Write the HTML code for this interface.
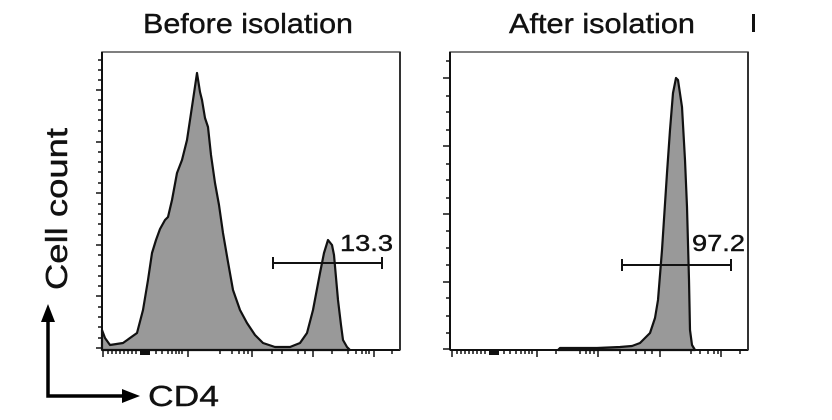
<!DOCTYPE html>
<html><head><meta charset="utf-8"><style>
html,body{margin:0;padding:0;background:#fff;}
svg{display:block;}
text{font-family:"Liberation Sans",Arial,sans-serif;fill:#111;stroke:#111;stroke-width:0.4;}
</style></head><body>
<svg width="832" height="420" viewBox="0 0 832 420" xmlns="http://www.w3.org/2000/svg">
<rect width="832" height="420" fill="#fff"/>
<text x="143" y="33" font-size="28" textLength="210" lengthAdjust="spacingAndGlyphs">Before isolation</text>
<text x="509" y="33" font-size="28" textLength="186" lengthAdjust="spacingAndGlyphs">After isolation</text>
<rect x="752" y="14" width="3" height="18" fill="#111"/>
<text transform="translate(67,290) rotate(-90)" font-size="31" textLength="162" lengthAdjust="spacingAndGlyphs">Cell count</text>
<path d="M48,318 L48,396 L128,396" fill="none" stroke="#000" stroke-width="3.5"/>
<polygon points="48,304 41,322 55,322" fill="#000"/>
<polygon points="140,396 122,389 122,403" fill="#000"/>
<text x="148" y="406" font-size="29" textLength="71" lengthAdjust="spacingAndGlyphs">CD4</text>

<path d="M102,350 L102,330 L105,338 L110,345 L123,343 L137,333 L143,310 L148,280 L152,253 L156,240 L160,229 L165,220 L168,217 L172,200 L177,173 L182,160 L187,140 L190,120 L193,100 L197,73 L200,92 L202,100 L205,118 L208,127 L211,155 L215,183 L219,205 L223,233 L228,262 L233,290 L240,310 L247,323 L255,335 L263,343 L275,347 L290,347 L300,343 L307,333 L313,310 L320,273 L324,253 L328,240 L332,245 L334,255 L338,300 L341,325 L343,340 L347,347 L350,350 Z" fill="#999" stroke="#111" stroke-width="2.2" stroke-linejoin="round"/>
<path d="M102,52 L400,52 L400,350 L102,350 Z" fill="none" stroke="#555" stroke-width="1.5"/>
<line x1="102" y1="52" x2="102" y2="350" stroke="#111" stroke-width="2"/>
<line x1="102" y1="350" x2="400" y2="350" stroke="#111" stroke-width="2"/>
<line x1="400" y1="52" x2="400" y2="350" stroke="#333" stroke-width="2"/>
<g stroke="#111" stroke-width="1.5">
<line x1="96" y1="90" x2="102" y2="90"/><line x1="96" y1="142" x2="102" y2="142"/><line x1="96" y1="193" x2="102" y2="193"/><line x1="96" y1="245" x2="102" y2="245"/><line x1="96" y1="296" x2="102" y2="296"/><line x1="96" y1="348" x2="102" y2="348"/>
<line x1="98" y1="60" x2="102" y2="60"/><line x1="98" y1="70" x2="102" y2="70"/><line x1="98" y1="80" x2="102" y2="80"/><line x1="98" y1="100" x2="102" y2="100"/><line x1="98" y1="110" x2="102" y2="110"/><line x1="98" y1="120" x2="102" y2="120"/><line x1="98" y1="131" x2="102" y2="131"/><line x1="98" y1="152" x2="102" y2="152"/><line x1="98" y1="162" x2="102" y2="162"/><line x1="98" y1="172" x2="102" y2="172"/><line x1="98" y1="183" x2="102" y2="183"/><line x1="98" y1="204" x2="102" y2="204"/><line x1="98" y1="214" x2="102" y2="214"/><line x1="98" y1="224" x2="102" y2="224"/><line x1="98" y1="235" x2="102" y2="235"/><line x1="98" y1="255" x2="102" y2="255"/><line x1="98" y1="266" x2="102" y2="266"/><line x1="98" y1="276" x2="102" y2="276"/><line x1="98" y1="286" x2="102" y2="286"/><line x1="98" y1="307" x2="102" y2="307"/><line x1="98" y1="317" x2="102" y2="317"/><line x1="98" y1="327" x2="102" y2="327"/><line x1="98" y1="338" x2="102" y2="338"/>
</g>
<g stroke="#111" stroke-width="1.5">
<line x1="103" y1="350" x2="103" y2="357"/><line x1="108" y1="350" x2="108" y2="354"/><line x1="112" y1="350" x2="112" y2="354"/><line x1="116" y1="350" x2="116" y2="354"/><line x1="120" y1="350" x2="120" y2="354"/><line x1="124" y1="350" x2="124" y2="354"/><line x1="128" y1="350" x2="128" y2="354"/><line x1="132" y1="350" x2="132" y2="354"/><line x1="136" y1="350" x2="136" y2="354"/>
<rect x="140" y="350" width="10" height="5" fill="#111" stroke="none"/>
<line x1="156" y1="350" x2="156" y2="354"/><line x1="162" y1="350" x2="162" y2="354"/><line x1="168" y1="350" x2="168" y2="354"/><line x1="172" y1="350" x2="172" y2="354"/><line x1="176" y1="350" x2="176" y2="354"/><line x1="179" y1="350" x2="179" y2="354"/><line x1="182" y1="350" x2="182" y2="354"/><line x1="188" y1="350" x2="188" y2="357"/>
<line x1="220" y1="350" x2="220" y2="354"/><line x1="232" y1="350" x2="232" y2="354"/><line x1="239" y1="350" x2="239" y2="354"/><line x1="244" y1="350" x2="244" y2="354"/><line x1="248" y1="350" x2="248" y2="354"/><line x1="252" y1="350" x2="252" y2="357"/>
<line x1="272" y1="350" x2="272" y2="354"/><line x1="282" y1="350" x2="282" y2="354"/><line x1="298" y1="350" x2="298" y2="354"/><line x1="305" y1="350" x2="305" y2="354"/><line x1="313" y1="350" x2="313" y2="357"/>
<line x1="332" y1="350" x2="332" y2="354"/><line x1="348" y1="350" x2="348" y2="354"/><line x1="356" y1="350" x2="356" y2="354"/><line x1="362" y1="350" x2="362" y2="354"/><line x1="366" y1="350" x2="366" y2="354"/><line x1="369" y1="350" x2="369" y2="354"/><line x1="374" y1="350" x2="374" y2="357"/><line x1="392" y1="350" x2="392" y2="354"/>
</g>
<g stroke="#111" stroke-width="2">
<line x1="273" y1="263" x2="382" y2="263"/><line x1="273" y1="257" x2="273" y2="269"/><line x1="382" y1="257" x2="382" y2="269"/>
</g>
<text x="340" y="251" font-size="23" textLength="53" lengthAdjust="spacingAndGlyphs">13.3</text>

<path d="M558,350 L560,348 L597,348 L620,347 L632,346 L640,343 L650,333 L655,318 L658,300 L662,250 L667,173 L670,130 L673,93 L676,78 L678,80 L682,107 L685,160 L687,207 L689,280 L690,330 L692,345 L695,350 Z" fill="#999" stroke="#111" stroke-width="2.2" stroke-linejoin="round"/>
<path d="M450,52 L748,52 L748,350 L450,350 Z" fill="none" stroke="#555" stroke-width="1.5"/>
<line x1="450" y1="52" x2="450" y2="350" stroke="#111" stroke-width="2"/>
<line x1="450" y1="350" x2="748" y2="350" stroke="#111" stroke-width="2"/>
<line x1="748" y1="52" x2="748" y2="350" stroke="#333" stroke-width="2"/>
<g stroke="#111" stroke-width="1.5">
<line x1="443" y1="78" x2="450" y2="78"/><line x1="443" y1="146" x2="450" y2="146"/><line x1="443" y1="214" x2="450" y2="214"/><line x1="443" y1="282" x2="450" y2="282"/><line x1="443" y1="349" x2="450" y2="349"/>
<line x1="446" y1="61" x2="450" y2="61"/><line x1="446" y1="96" x2="450" y2="96"/><line x1="446" y1="112" x2="450" y2="112"/><line x1="446" y1="130" x2="450" y2="130"/><line x1="446" y1="164" x2="450" y2="164"/><line x1="446" y1="180" x2="450" y2="180"/><line x1="446" y1="198" x2="450" y2="198"/><line x1="446" y1="231" x2="450" y2="231"/><line x1="446" y1="248" x2="450" y2="248"/><line x1="446" y1="265" x2="450" y2="265"/><line x1="446" y1="298" x2="450" y2="298"/><line x1="446" y1="316" x2="450" y2="316"/><line x1="446" y1="333" x2="450" y2="333"/>
</g>
<g stroke="#111" stroke-width="1.5">
<line x1="452" y1="350" x2="452" y2="357"/><line x1="457" y1="350" x2="457" y2="354"/><line x1="461" y1="350" x2="461" y2="354"/><line x1="465" y1="350" x2="465" y2="354"/><line x1="469" y1="350" x2="469" y2="354"/><line x1="473" y1="350" x2="473" y2="354"/><line x1="477" y1="350" x2="477" y2="354"/><line x1="481" y1="350" x2="481" y2="354"/><line x1="485" y1="350" x2="485" y2="354"/>
<rect x="489" y="350" width="10" height="5" fill="#111" stroke="none"/>
<line x1="504" y1="350" x2="504" y2="354"/><line x1="510" y1="350" x2="510" y2="354"/><line x1="516" y1="350" x2="516" y2="354"/><line x1="521" y1="350" x2="521" y2="354"/><line x1="525" y1="350" x2="525" y2="354"/><line x1="529" y1="350" x2="529" y2="354"/><line x1="532" y1="350" x2="532" y2="354"/><line x1="537" y1="350" x2="537" y2="357"/>
<line x1="556" y1="350" x2="556" y2="354"/><line x1="580" y1="350" x2="580" y2="354"/><line x1="586" y1="350" x2="586" y2="354"/><line x1="590" y1="350" x2="590" y2="354"/><line x1="594" y1="350" x2="594" y2="354"/><line x1="598" y1="350" x2="598" y2="357"/>
<line x1="620" y1="350" x2="620" y2="354"/><line x1="636" y1="350" x2="636" y2="354"/><line x1="645" y1="350" x2="645" y2="354"/><line x1="652" y1="350" x2="652" y2="354"/><line x1="660" y1="350" x2="660" y2="357"/>
<line x1="691" y1="350" x2="691" y2="354"/><line x1="700" y1="350" x2="700" y2="354"/><line x1="708" y1="350" x2="708" y2="354"/><line x1="714" y1="350" x2="714" y2="354"/><line x1="718" y1="350" x2="718" y2="354"/><line x1="721" y1="350" x2="721" y2="357"/><line x1="740" y1="350" x2="740" y2="354"/>
</g>
<g stroke="#111" stroke-width="2">
<line x1="622" y1="265" x2="731" y2="265"/><line x1="622" y1="259" x2="622" y2="271"/><line x1="731" y1="259" x2="731" y2="271"/>
</g>
<text x="692" y="251" font-size="23" textLength="53" lengthAdjust="spacingAndGlyphs">97.2</text>
</svg>
</body></html>
